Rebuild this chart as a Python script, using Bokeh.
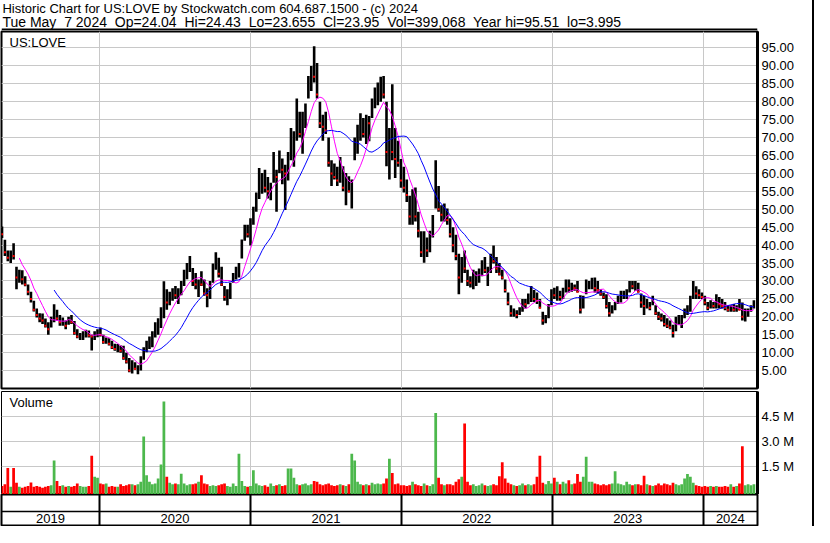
import numpy as np
import pandas as pd
from bokeh.plotting import figure
from bokeh.layouts import column
from bokeh.models import Range1d, LinearAxis, FixedTicker, PrintfTickFormatter, Grid, Label, Span
from bokeh.core.properties import value
from bokeh.embed import file_html
from bokeh.resources import INLINE

FONT = "Liberation Sans"

# ---------------- data (weekly bars) ----------------
first_week = "2019-05-10"

high = [
    45.2, 41.5, 38.5, 38.5, 40.5, 34.0, 33.1, 33.0, 31.3, 29.0,
    27.0, 24.5, 22.3, 21.0, 20.9, 19.5, 18.5, 20.0, 23.5, 22.0,
    20.5, 19.8, 19.0, 20.0, 20.5, 18.8, 16.5, 15.5, 16.0, 16.4,
    16.2, 15.0, 16.0, 16.5, 17.0, 15.0, 14.2, 14.0, 13.3, 12.5,
    12.4, 12.0, 11.9, 10.0, 8.5, 7.9, 7.3, 6.5, 9.0, 11.5,
    13.3, 14.5, 16.0, 18.5, 19.6, 22.7, 29.9, 27.7, 27.0, 28.0,
    28.6, 28.0, 30.0, 33.1, 35.0, 37.0, 33.6, 32.2, 30.4, 32.7,
    30.4, 28.0, 30.0, 34.9, 38.0, 36.5, 34.0, 28.6, 27.7, 29.5,
    32.2, 34.0, 35.0, 41.6, 45.7, 45.7, 47.5, 50.7, 54.7, 61.5,
    60.1, 61.0, 59.0, 57.4, 66.0, 61.0, 66.4, 64.2, 62.4, 66.0,
    72.7, 71.8, 80.9, 77.2, 77.2, 79.5, 87.2, 90.0, 95.51, 90.8,
    80.0, 76.4, 77.2, 70.0, 63.7, 62.8, 61.9, 64.6, 62.0, 60.1,
    59.2, 58.3, 70.0, 73.6, 76.8, 75.5, 76.4, 76.0, 80.9, 84.0,
    85.4, 87.0, 87.2, 80.0, 72.7, 84.9, 72.7, 69.1, 64.0, 61.9,
    58.3, 53.8, 55.6, 56.1, 49.3, 43.9, 43.9, 42.1, 44.0, 48.4,
    63.7, 56.5, 51.1, 51.6, 50.2, 47.5, 45.0, 42.9, 37.6, 36.7,
    38.5, 33.1, 31.3, 33.1, 32.7, 33.5, 35.8, 36.7, 34.0, 37.6,
    39.9, 36.7, 35.0, 33.1, 30.4, 26.8, 23.2, 22.3, 21.8, 22.7,
    25.0, 25.0, 26.5, 28.6, 27.5, 26.8, 25.0, 21.4, 20.5, 23.6,
    27.7, 28.1, 28.5, 27.3, 28.1, 30.4, 30.4, 29.5, 29.0, 30.0,
    26.0, 25.9, 30.4, 30.0, 30.9, 31.0, 30.0, 27.7, 26.8, 26.3,
    24.1, 23.2, 24.1, 25.9, 27.3, 27.3, 27.7, 30.0, 30.0, 30.0,
    29.5, 26.5, 25.9, 25.0, 24.1, 25.9, 23.2, 21.4, 20.9, 20.5,
    19.6, 19.0, 17.8, 20.0, 20.5, 20.5, 22.3, 23.2, 25.9, 30.0,
    28.5, 27.7, 26.8, 25.9, 24.1, 24.6, 24.1, 26.3, 25.5, 25.0,
    24.1, 23.2, 23.2, 23.6, 23.2, 25.0, 24.0, 22.3, 22.3, 23.2,
    24.6,
]

low = [
    42.0, 37.0, 35.5, 35.0, 36.0, 27.7, 29.5, 29.0, 28.5, 26.0,
    24.0, 21.5, 19.8, 18.5, 18.0, 17.0, 15.0, 17.0, 18.5, 19.0,
    17.5, 17.5, 16.5, 17.8, 18.0, 15.0, 14.0, 13.5, 13.5, 14.2,
    14.2, 10.6, 13.5, 14.3, 14.5, 12.5, 12.5, 12.0, 11.0, 10.5,
    10.1, 10.0, 8.0, 7.0, 4.5, 4.2, 5.2, 3.995, 5.0, 8.0,
    10.1, 11.0, 11.5, 14.2, 15.0, 16.9, 19.6, 22.0, 23.2, 24.5,
    25.0, 23.6, 26.0, 28.6, 30.5, 32.5, 28.6, 27.7, 25.5, 28.6,
    25.9, 22.7, 25.0, 29.5, 33.1, 31.0, 28.6, 24.5, 23.2, 25.0,
    29.5, 30.4, 31.0, 36.3, 41.2, 42.1, 39.9, 45.7, 49.3, 52.9,
    54.3, 54.7, 53.0, 52.5, 57.4, 49.3, 60.1, 57.0, 49.8, 58.0,
    63.7, 61.9, 69.1, 70.0, 65.5, 72.7, 80.9, 83.0, 85.4, 80.9,
    72.7, 69.1, 71.0, 61.9, 56.5, 58.3, 56.5, 57.4, 55.0, 51.1,
    54.7, 50.2, 63.7, 65.5, 69.1, 70.0, 68.2, 69.0, 75.5, 78.2,
    79.0, 80.0, 80.9, 62.0, 58.3, 63.7, 58.7, 61.9, 56.0, 54.7,
    52.0, 45.7, 45.7, 46.6, 42.1, 36.7, 35.1, 36.7, 38.0, 42.1,
    50.2, 49.3, 46.6, 46.6, 45.7, 42.1, 38.0, 35.8, 26.3, 29.5,
    32.2, 28.6, 28.2, 27.7, 28.6, 29.5, 31.3, 32.2, 28.6, 32.2,
    34.9, 32.2, 31.5, 30.4, 26.8, 23.2, 20.0, 20.0, 19.6, 20.5,
    21.4, 22.3, 23.5, 24.1, 24.1, 23.6, 22.3, 17.8, 18.2, 19.6,
    23.2, 25.0, 24.5, 24.5, 25.0, 26.8, 26.8, 27.0, 27.3, 26.8,
    20.9, 22.3, 26.3, 27.7, 27.7, 26.8, 26.5, 25.9, 25.0, 22.3,
    20.0, 20.9, 21.8, 23.6, 24.0, 25.0, 25.0, 26.8, 27.7, 27.3,
    26.8, 22.5, 20.5, 22.3, 21.8, 23.2, 20.5, 19.1, 18.7, 17.3,
    16.9, 16.5, 14.2, 16.0, 17.8, 16.9, 19.6, 20.5, 21.4, 25.0,
    25.0, 25.0, 25.0, 23.2, 21.8, 22.3, 22.3, 22.3, 22.3, 22.3,
    21.8, 21.4, 21.4, 21.4, 21.4, 21.8, 19.0, 18.7, 20.0, 21.4,
    22.3,
]

close = [
    43.0, 38.0, 36.5, 37.5, 37.0, 31.0, 31.5, 30.5, 29.0, 27.0,
    25.0, 22.0, 20.5, 19.5, 19.0, 17.5, 16.5, 19.5, 21.5, 19.5,
    18.5, 18.5, 17.5, 19.5, 18.5, 15.5, 14.5, 14.5, 15.0, 15.5,
    14.8, 14.5, 15.0, 15.5, 15.0, 13.0, 13.5, 12.5, 11.5, 11.0,
    11.5, 10.5, 8.5, 7.5, 5.0, 6.5, 5.5, 6.0, 8.5, 11.0,
    11.5, 13.5, 15.5, 16.0, 18.5, 21.0, 25.0, 24.0, 26.0, 26.5,
    26.0, 27.5, 29.0, 32.0, 33.0, 34.0, 30.0, 29.0, 29.5, 29.0,
    26.5, 26.0, 29.5, 34.0, 35.0, 32.0, 29.0, 25.5, 26.0, 29.0,
    31.5, 33.0, 34.5, 40.0, 44.0, 43.0, 46.5, 50.0, 53.0, 57.0,
    58.0, 56.0, 55.0, 56.5, 60.0, 59.0, 62.0, 61.0, 60.0, 65.0,
    68.0, 70.0, 74.0, 71.0, 75.0, 79.0, 84.0, 88.0, 87.0, 82.0,
    74.0, 73.0, 72.0, 63.0, 60.0, 59.0, 58.0, 60.0, 56.0, 57.0,
    55.0, 57.0, 67.0, 71.0, 72.0, 71.0, 75.0, 74.0, 79.0, 82.0,
    83.0, 84.0, 82.0, 66.0, 68.0, 66.0, 64.0, 63.0, 58.0, 56.0,
    54.0, 48.0, 51.0, 48.0, 44.0, 38.0, 40.0, 38.5, 43.0, 46.0,
    54.0, 50.0, 48.5, 49.0, 47.0, 43.0, 40.0, 37.0, 31.0, 35.0,
    33.5, 30.0, 29.5, 30.0, 31.0, 33.0, 34.0, 33.0, 33.5, 36.0,
    35.5, 33.5, 32.0, 31.0, 27.5, 24.0, 21.0, 21.5, 20.5, 22.0,
    24.0, 23.5, 25.5, 27.0, 25.0, 24.5, 22.5, 19.0, 20.0, 23.0,
    26.5, 26.0, 27.0, 25.5, 27.5, 28.5, 28.0, 28.5, 28.0, 27.0,
    22.0, 25.0, 28.5, 28.5, 29.5, 28.0, 27.5, 26.5, 25.5, 23.0,
    21.0, 22.5, 23.5, 25.0, 26.0, 26.0, 27.0, 29.5, 28.5, 29.0,
    27.0, 24.0, 23.0, 23.5, 22.5, 24.0, 21.0, 20.0, 19.5, 18.0,
    17.5, 17.0, 15.5, 18.5, 18.5, 19.5, 21.5, 22.0, 25.0, 28.0,
    26.5, 26.0, 25.5, 24.0, 22.5, 23.5, 23.0, 24.5, 23.5, 23.0,
    22.5, 22.0, 22.5, 22.0, 22.5, 22.0, 20.0, 21.0, 22.0, 22.5,
    23.95,
]

# largest daily volume seen in each week, millions of shares
volume_m = [
    0.35, 0.45, 1.42, 0.30, 1.42, 0.55, 0.30, 0.25, 0.30, 0.35,
    0.56, 0.30, 0.35, 0.30, 0.25, 0.30, 0.35, 0.40, 1.87, 0.65,
    0.35, 0.40, 0.30, 0.35, 0.30, 0.35, 0.50, 0.35, 0.30, 0.30,
    0.35, 2.15, 0.90, 0.85, 0.50, 0.45, 0.50, 0.30, 0.35, 0.30,
    0.30, 0.45, 0.35, 0.40, 0.45, 0.45, 0.40, 0.45, 0.60, 3.30,
    1.00, 0.60, 0.45, 0.50, 0.80, 1.63, 5.40, 0.90, 0.55, 0.45,
    0.50, 0.45, 1.08, 0.50, 0.40, 0.45, 0.45, 0.50, 0.60, 1.00,
    0.50, 0.45, 0.35, 0.40, 0.35, 0.40, 0.45, 0.50, 0.35, 0.30,
    0.50, 0.35, 2.27, 0.65, 0.35, 0.30, 0.35, 1.29, 0.50, 0.40,
    0.35, 0.40, 0.30, 0.50, 0.35, 0.40, 0.45, 0.35, 0.40, 1.40,
    1.40, 0.85, 0.45, 0.40, 0.45, 0.50, 0.40, 0.45, 0.65, 0.60,
    0.45, 0.40, 0.45, 0.50, 0.40, 0.35, 0.40, 0.45, 0.40, 0.35,
    0.45, 2.27, 1.87, 0.60, 0.45, 0.40, 0.45, 0.40, 0.55, 0.45,
    0.50, 0.45, 0.50, 0.80, 1.98, 1.13, 0.45, 0.50, 0.40, 0.40,
    0.35, 0.40, 0.60, 0.45, 0.40, 0.35, 0.50, 0.40, 0.35, 0.45,
    4.70, 0.85, 0.45, 0.40, 0.45, 0.45, 0.40, 0.60, 0.75, 0.90,
    4.08, 0.60, 0.40, 0.45, 0.35, 0.40, 0.50, 0.40, 0.35, 0.40,
    0.45, 0.40, 0.94, 1.77, 0.80, 0.55, 0.45, 0.40, 0.35, 0.40,
    0.50, 0.40, 0.45, 0.40, 0.45, 0.90, 2.15, 0.55, 0.45, 0.65,
    0.50, 0.85, 0.60, 0.45, 0.60, 0.50, 0.70, 0.45, 0.50, 1.06,
    0.60, 0.90, 2.10, 0.60, 0.60, 0.50, 0.45, 0.40, 0.45, 0.40,
    0.45, 0.50, 1.23, 0.50, 0.45, 0.40, 0.60, 0.45, 0.40, 0.45,
    0.45, 0.40, 0.96, 0.45, 0.40, 0.35, 0.40, 0.50, 0.40, 0.50,
    0.45, 0.40, 0.55, 0.45, 0.40, 0.45, 0.80, 1.06, 0.90, 0.55,
    0.40, 0.35, 0.30, 0.35, 0.30, 0.35, 0.30, 0.35, 0.30, 0.30,
    0.35, 0.30, 0.45, 0.30, 0.35, 0.50, 2.73, 0.40, 0.45, 0.40,
    0.45,
]

price_ticks = [5, 10, 15, 20, 25, 30, 35, 40, 45, 50, 55, 60, 65, 70, 75, 80, 85, 90, 95]
volume_ticks = [1.5, 3.0, 4.5]
year_bounds = [2020, 2021, 2022, 2023, 2024]
year_labels = ["2019", "2020", "2021", "2022", "2023", "2024"]

symbol = "US:LOVE"
title_line1 = "Historic Chart for US:LOVE by Stockwatch.com 604.687.1500 - (c) 2024"
title_line2 = ("Tue May\u00a0 7 2024\u00a0 Op=24.04\u00a0 Hi=24.43\u00a0 Lo=23.655\u00a0 "
               "Cl=23.95\u00a0 Vol=399,068\u00a0 Year hi=95.51\u00a0 lo=3.995")

fast_n = 7    # weeks (magenta average)
slow_n = 19   # weeks (blue average)

assert len(high) == len(low) == len(close) == len(volume_m)

# ---------------- derived ----------------
dates = pd.date_range(first_week, periods=len(close), freq="7D")
days_in_year = np.where(dates.is_leap_year, 366.0, 365.0)
xs = np.asarray(dates.year + (dates.dayofyear - 1) / days_in_year, dtype=float)
hi = np.asarray(high, float)
lo = np.asarray(low, float)
cl = np.asarray(close, float)
vol = np.asarray(volume_m, float)

chg = np.diff(cl, prepend=cl[0] + 0.01)
down = chg < 0
ma_fast = np.convolve(cl, np.ones(fast_n) / fast_n, mode="valid")
ma_slow = np.convolve(cl, np.ones(slow_n) / slow_n, mode="valid")

RED = "#ff0000"
GREEN = "#4cb84c"
GRID = "#c8c8c8"
vol_colors = [RED if d else GREEN for d in down]

W = 812
LEFT = 1
RIGHT = 55
X0, X1 = 2019.35, 2024.36
VOL_MIN, VOL_MAX = -0.156, 5.99
bar_w = 0.95 * 7 / 365.25


def clear_grids(fig):
    fig.center = [r for r in fig.center if not isinstance(r, Grid)]


def base_fig(height, x_range, y_range, **kw):
    f = figure(width=W, height=height, x_range=x_range, y_range=y_range,
               x_axis_location=None, y_axis_location=None,
               output_backend="svg", toolbar_location=None,
               background_fill_color="white", border_fill_color="white", **kw)
    clear_grids(f)
    return f


def right_axis(ticks, fmt):
    ax = LinearAxis(ticker=FixedTicker(ticks=ticks), formatter=PrintfTickFormatter(format=fmt))
    ax.major_tick_in = 0
    ax.major_tick_out = 0
    ax.minor_tick_in = 0
    ax.minor_tick_out = 0
    ax.axis_line_color = "black"
    ax.axis_line_width = 3
    ax.major_label_text_font = FONT
    ax.major_label_text_font_size = "13px"
    ax.major_label_text_color = "#000000"
    ax.major_label_standoff = 4
    return ax


# ---------------- title strip ----------------
t = base_fig(30, Range1d(0, W), Range1d(30, 0), min_border=0, outline_line_color=None)
t.text(x=[1], y=[0.5], text=[title_line1],
       text_font=value(FONT), text_font_size=value("13px"),
       text_baseline="top", text_align="left", text_color="black")
t.text(x=[1], y=[13.0], text=[title_line2],
       text_font=value(FONT), text_font_size=value("14px"),
       text_baseline="top", text_align="left", text_color="black")
t.add_layout(Span(location=29, dimension="width", line_color="black", line_width=2))

# ---------------- price panel ----------------
xr = Range1d(X0, X1)
p = base_fig(360, xr, Range1d(0, 99.6),
             min_border_left=LEFT, min_border_right=RIGHT,
             min_border_top=1, min_border_bottom=2,
             outline_line_color="black", outline_line_width=2)
p.add_layout(Grid(dimension=0, ticker=FixedTicker(ticks=year_bounds), grid_line_color=GRID))
p.add_layout(Grid(dimension=1, ticker=FixedTicker(ticks=price_ticks), grid_line_color=GRID))
p.add_layout(right_axis(price_ticks, "%.2f"), "right")

p.segment(x0=xs, y0=lo, x1=xs, y1=hi, line_color="black", line_width=2.6)
p.scatter(xs[down], cl[down], marker="square", size=2, fill_color=RED, line_color=None)
p.line(xs[fast_n - 1:], ma_fast, line_color="#ff00ff", line_width=1)
p.line(xs[slow_n - 1:], ma_slow, line_color="#0000ff", line_width=1)
p.add_layout(Label(x=X0, y=99.6, x_offset=8, y_offset=-3, text=symbol, text_baseline="top",
                   text_font=FONT, text_font_size="13px", text_color="black"))

# ---------------- volume panel ----------------
v = base_fig(104, xr, Range1d(VOL_MIN, VOL_MAX),
             min_border_left=LEFT, min_border_right=RIGHT,
             min_border_top=1, min_border_bottom=0,
             outline_line_color="black", outline_line_width=1)
v.add_layout(Grid(dimension=0, ticker=FixedTicker(ticks=year_bounds), grid_line_color=GRID))
v.add_layout(Grid(dimension=1, ticker=FixedTicker(ticks=volume_ticks), grid_line_color=GRID))
v.add_layout(right_axis(volume_ticks, "%.1f M"), "right")
v.vbar(x=xs, top=vol, bottom=VOL_MIN, width=bar_w, fill_color=vol_colors, line_color=None)
v.add_layout(Label(x=X0, y=VOL_MAX, x_offset=8, y_offset=-3, text="Volume", text_baseline="top",
                   text_font=FONT, text_font_size="13px", text_color="black"))

# ---------------- year strip ----------------
yf = base_fig(32, xr, Range1d(0, 33),
              min_border_left=LEFT, min_border_right=RIGHT,
              min_border_top=0, min_border_bottom=1,
              outline_line_color="black", outline_line_width=2)
yf.add_layout(Grid(dimension=0, ticker=FixedTicker(ticks=year_bounds),
                   grid_line_color="black", grid_line_width=2))
yf.add_layout(Span(location=15, dimension="width", line_color="black", line_width=1.5))
edges = [X0] + year_bounds + [X1]
label_x = [(a + b) / 2 for a, b in zip(edges[:-1], edges[1:])]
yf.text(x=label_x, y=[7.5] * len(year_labels), text=year_labels,
        text_font=value(FONT), text_font_size=value("13px"),
        text_align="center", text_baseline="middle", text_color="black")

layout = column(t, p, v, yf, spacing=0, styles={"border-right": "2px solid black"})
open("out.html", "w").write(file_html(layout, INLINE))
